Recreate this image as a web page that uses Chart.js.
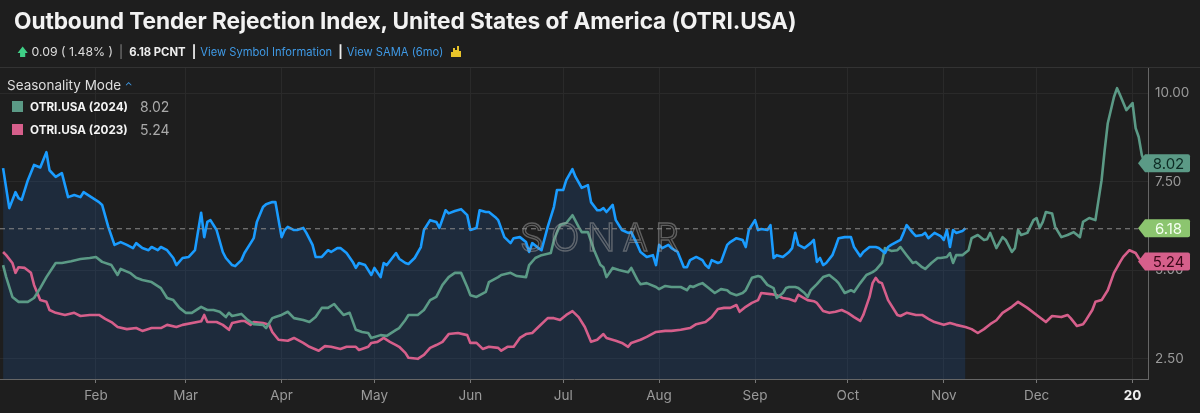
<!DOCTYPE html>
<html>
<head>
<meta charset="utf-8">
<script src="https://cdn.jsdelivr.net/npm/chart.js@4.4.1/dist/chart.umd.min.js"></script>
<style>
  html, body { margin: 0; padding: 0; background: #1e1e1e; }
  #wrap { position: relative; width: 1200px; height: 413px; background: #1e1e1e; font-family: Inter, Roboto, sans-serif; overflow: hidden; }
  #head { position: absolute; left: 0; top: 0; width: 1200px; height: 67px; border-bottom: 1px solid #333; }
  #title { position: absolute; left: 14px; top: 7px; color: #f2f2f2; font-size: 22.7px; font-weight: 700; white-space: nowrap; letter-spacing: -0.1px; }
  #sub { position: absolute; left: 17px; top: 44px; color: #ddd; font-size: 12.3px; white-space: nowrap; }
  #sub .up { color: #3fcf86; font-size: 11px; }
  #sub .sep { color: #888; margin: 0 6px; }
  #sub .pc { font-size: 11.3px; font-weight: 700; color: #eee; }
  #sub .bar { color: #eee; margin: 0 4px 0 6px; font-weight: 700; }
  #sub .lnk { color: #3f9ae6; font-size: 11.2px; }
  #legend { position: absolute; left: 7px; top: 77px; color: #ddd; font-size: 13.5px; }
  #legend .row { position: absolute; left: 5px; white-space: nowrap; font-size: 11.7px; }
  #legend .sw { display: inline-block; width: 11px; height: 11px; vertical-align: -1px; margin-right: 7px; }
  #legend .nm { color: #f4f4f4; font-weight: 700; }
  #legend .val { color: #aaa; position: absolute; left: 128px; font-size: 14px; top: -2px; }
  canvas { position: absolute; left: 0; top: 0; }
</style>
</head>
<body>
<div id="wrap">
  <canvas id="myChart" width="1200" height="413"></canvas>
  <div id="head">
    <div id="title">Outbound Tender Rejection Index, United States of America (OTRI.USA)</div>
    <div id="sub"><span class="up">&#129093;</span> 0.09 ( 1.48% )<span class="sep">|</span><span class="pc">6.18 PCNT</span><span class="bar">|</span><span class="lnk">View Symbol Information</span><span class="bar">|</span><span class="lnk">View SAMA (6mo)</span>
      <svg width="14" height="13" viewBox="0 0 14 13" style="vertical-align:-2px;margin-left:2px"><path d="M2 12 L2 7 L4 7 L4 3 L6 3 L6 5 L8 5 L8 1 L10 1 L10 6 L12 6 L12 12 Z" fill="#e8c42a"/></svg>
    </div>
  </div>
  <div id="legend">
    <div>Seasonality Mode <span style="color:#3f9ae6;font-size:10px">&#8963;</span></div>
    <div class="row" style="top:23px"><span class="sw" style="background:#5b9a86"></span><span class="nm">OTRI.USA (2024)</span><span class="val">8.02</span></div>
    <div class="row" style="top:46px"><span class="sw" style="background:#d65f8b"></span><span class="nm">OTRI.USA (2023)</span><span class="val">5.24</span></div>
  </div>
</div>
<script>
// day of year (0 = Jan 1) and index value
const blueDays = [1,3,5,6,7,9,11,13,15,16,18,20,22,24,26,27,30,32,33,35,37,39,41,43,44,46,48,49,51,52,54,56,57,59,61,63,65,66,67,68,70,72,73,75,76,78,79,81,82,83,85,86,88,89,91,92,93,95,96,98,99,101,102,104,106,107,109,110,112,114,115,116,118,120,121,123,124,125,128,129,131,132,134,136,137,139,141,142,144,145,147,149,151,152,154,155,157,158,160,161,163,165,166,168,170,171,172,174,175,177,179,180,182,183,185,186,188,190,191,193,194,195,196,198,199,201,203,204,206,207,209,211,212,213,214,216,217,219,221,222,223,225,227,228,229,230,232,233,235,236,238,240,241,242,244,245,246,248,249,250,251,253,255,256,257,258,260,262,263,264,265,266,267,269,270,271,273,275,276,278,279,281,283,284,286,287,288,291,292,293,295,296,298,299,300,302,304,305,306,307,308,309,311,312];
const blueVals = [7.88,6.75,7.2,7.03,6.98,7.54,7.97,7.9,8.33,7.82,7.63,7.74,7.06,7.12,7.06,7.2,7.03,6.92,6.84,6.22,5.71,5.79,5.71,5.62,5.76,5.62,5.56,5.65,5.56,5.65,5.56,5.34,5.14,5.34,5.37,5.56,6.62,5.93,6.36,6.41,6.13,5.51,5.34,5.14,5.11,5.28,5.48,5.76,5.9,6.36,6.78,6.86,6.92,6.92,5.93,6.13,6.22,6.13,6.13,6.19,6.05,5.71,5.37,5.37,5.56,5.51,5.62,5.62,5.48,5.23,5.06,5.2,5.14,4.86,5.06,4.8,5.2,5.14,5.48,5.32,5.2,5.17,5.34,5.65,6.13,6.41,6.36,6.19,6.69,6.6,6.67,6.72,6.55,6.13,6.19,6.69,6.64,6.64,6.5,6.41,5.93,5.76,5.9,5.93,5.79,5.51,5.76,5.62,5.56,6.22,6.78,7.26,7.26,7.54,7.85,7.63,7.32,7.4,6.92,6.69,6.69,6.75,6.64,6.84,6.41,6.13,6.05,6.07,5.71,5.51,5.37,5.42,5.14,5.71,5.62,5.71,5.62,5.51,5.08,5.08,5.28,5.37,5.28,5.14,5.06,5.28,5.2,5.23,5.71,5.79,5.9,5.85,5.65,6.13,6.41,6.13,6.16,6.13,6.27,5.34,5.42,5.37,5.51,5.62,6.05,5.71,5.62,5.76,5.85,5.23,5.34,5.14,5.2,5.42,5.65,5.9,5.93,5.93,5.65,5.39,5.51,5.65,5.65,5.62,5.48,5.65,5.71,5.85,6.05,6.27,6.05,5.96,5.99,6.05,5.9,6.05,5.96,5.85,6.13,5.65,6.13,6.05,6.1,6.18];

const greenDays = [1,2,4,6,9,11,13,15,18,20,23,26,29,31,33,36,38,39,42,44,46,49,52,54,56,58,60,62,65,67,69,71,73,74,75,78,80,82,85,86,88,89,91,93,95,98,100,102,104,106,108,109,111,113,115,117,119,120,123,125,128,129,131,132,135,137,139,141,143,145,147,149,151,152,154,157,158,161,162,165,167,170,171,173,175,178,179,181,183,185,187,188,190,192,194,195,196,198,200,203,204,206,207,209,212,213,215,217,220,222,223,224,226,227,229,231,233,235,236,238,240,241,243,245,246,248,250,251,253,254,255,257,258,260,261,262,264,266,268,270,271,273,275,276,278,280,282,283,285,286,288,290,291,293,295,296,298,299,301,303,304,306,307,308,309,311,313,314,316,318,319,320,322,324,325,327,328,329,330,332,334,335,336,337,338,340,341,343,345,347,349,350,352,354,356,357,358,360,361,362,364,366,367,368,369,370];
const greenVals = [5.14,4.8,4.24,4.1,4.1,4.21,4.49,4.8,5.2,5.2,5.25,5.31,5.34,5.37,5.23,5.14,4.86,5.03,4.92,4.78,4.72,4.66,4.49,4.21,4.15,3.93,3.79,3.79,3.96,3.87,3.87,3.82,3.67,3.79,3.7,3.76,3.59,3.47,3.45,3.36,3.64,3.67,3.73,3.82,3.64,3.59,3.53,3.67,3.93,3.93,4.04,3.93,3.73,3.79,3.31,3.25,3.22,3.08,3.16,3.14,3.31,3.36,3.59,3.73,3.73,3.87,4.15,4.24,4.58,4.8,4.92,4.92,4.52,4.29,4.24,4.38,4.66,4.8,4.86,4.92,4.83,4.8,5.14,5.34,5.42,5.48,5.85,6.27,6.33,6.55,6.22,6.07,6.07,5.56,5.15,5.08,4.8,5.06,5.0,4.94,5.06,4.72,4.6,4.63,4.52,4.46,4.55,4.52,4.52,4.43,4.55,4.52,4.6,4.63,4.49,4.35,4.46,4.43,4.35,4.29,4.35,4.43,4.78,4.83,4.8,4.58,4.49,4.21,4.35,4.49,4.52,4.52,4.49,4.35,4.24,4.43,4.6,4.8,4.86,4.72,4.63,4.35,4.43,4.38,4.63,4.86,4.94,5.0,5.2,5.62,5.54,5.56,5.65,5.42,5.2,5.23,5.08,5.03,5.2,5.34,5.34,5.37,5.48,5.2,5.42,5.42,5.56,5.9,5.99,5.85,5.87,6.05,5.62,5.93,5.85,5.51,5.62,6.13,5.99,6.05,6.41,6.47,6.19,6.36,6.64,6.6,6.22,5.93,5.99,6.07,5.93,6.36,6.47,6.41,7.54,8.39,9.15,9.89,10.14,9.94,9.52,9.72,9.01,8.76,8.25,8.02];

const pinkDays = [1,2,4,5,6,8,10,11,13,15,16,18,21,24,26,29,32,34,36,38,41,44,46,49,52,54,57,59,65,66,67,70,72,74,75,78,79,81,82,85,87,88,90,93,95,98,100,103,105,107,110,112,115,116,119,120,122,124,126,128,129,131,132,135,137,139,141,143,145,148,151,152,154,156,158,161,162,164,166,168,170,172,174,177,179,181,183,185,187,189,191,193,195,196,199,201,203,204,207,209,212,215,217,220,223,225,228,230,232,234,236,238,239,241,243,245,246,249,251,253,255,257,258,261,263,264,266,268,270,272,274,276,278,279,281,282,283,284,285,287,290,291,293,296,298,300,302,305,307,309,312,314,316,318,320,322,324,327,329,332,335,338,340,343,345,346,348,350,351,353,354,356,358,360,362,363,365,367,368,369];
const pinkVals = [5.51,5.42,5.2,4.92,5.08,5.06,4.92,4.58,4.15,4.1,3.87,3.79,3.73,3.79,3.7,3.73,3.73,3.62,3.53,3.39,3.33,3.36,3.28,3.36,3.36,3.45,3.39,3.45,3.55,3.73,3.53,3.53,3.45,3.31,3.5,3.56,3.56,3.45,3.53,3.5,3.45,3.25,3.03,3.0,3.08,2.94,2.83,2.72,2.85,2.83,2.77,2.83,2.83,2.74,2.83,2.94,2.97,3.08,2.97,2.88,2.83,2.66,2.52,2.49,2.6,2.8,2.88,2.97,3.19,3.22,3.16,2.94,2.94,2.77,2.83,2.8,2.72,2.83,2.83,3.08,3.19,3.22,3.39,3.64,3.64,3.59,3.73,3.84,3.67,3.39,2.97,3.03,3.19,3.08,3.0,2.94,2.83,2.94,3.03,3.11,3.25,3.28,3.28,3.31,3.36,3.47,3.53,3.67,3.9,3.93,3.93,4.01,3.82,3.96,4.07,4.15,4.35,4.32,4.29,4.21,4.18,4.12,4.3,4.15,4.12,4.07,3.84,3.79,3.82,3.87,3.79,3.67,3.56,3.73,4.24,4.63,4.78,4.66,4.63,4.15,3.73,3.7,3.79,3.73,3.73,3.62,3.53,3.45,3.5,3.45,3.39,3.33,3.22,3.33,3.47,3.58,3.79,3.96,4.1,3.93,3.73,3.53,3.7,3.67,3.73,3.64,3.42,3.47,3.59,3.87,4.1,4.15,4.43,4.92,5.23,5.37,5.56,5.48,5.34,5.24];

// month starts (2024) and their labels
const monthDays = [31,60,91,121,152,182,213,244,274,305,335,366];
const monthLabels = ['Feb','Mar','Apr','May','Jun','Jul','Aug','Sep','Oct','Nov','Dec','20'];
const yTicks = [2.5,5,7.5,10];

const lastBlue = blueVals[blueVals.length - 1];
const lastGreen = greenVals[greenVals.length - 1];
const lastPink = pinkVals[pinkVals.length - 1];

const toPoints = (days, vals) => days.map((d, i) => ({x: d, y: vals[i]}));

const overlay = {
    id: 'overlay',
    afterDatasetsDraw(chart) {
        const {ctx, chartArea, scales} = chart;
        const y = scales.y;
        // watermark
        ctx.save();
        ctx.font = '300 38px Inter, Roboto, sans-serif';
        ctx.letterSpacing = '7px';
        ctx.textAlign = 'center';
        ctx.textBaseline = 'middle';
        ctx.strokeStyle = 'rgba(160,160,160,0.5)';
        ctx.lineWidth = 1.4;
        ctx.strokeText('SONAR', 603, 240);
        ctx.restore();

        // current value dashed line
        const py = y.getPixelForValue(lastBlue);
        ctx.save();
        ctx.strokeStyle = '#8a8a8a';
        ctx.lineWidth = 1;
        ctx.setLineDash([5, 4]);
        ctx.beginPath();
        ctx.moveTo(chartArea.left, py + 0.5);
        ctx.lineTo(chartArea.right - 10, py + 0.5);
        ctx.stroke();
        ctx.restore();
    },
    afterDraw(chart) {
        const {ctx, chartArea, scales} = chart;
        const y = scales.y;
        const tag = (v, bg, fg) => {
            const py = y.getPixelForValue(v);
            const tip = chartArea.right - 10, x0 = chartArea.right - 3, x1 = chartArea.right + 42, h = 9;
            ctx.save();
            ctx.fillStyle = bg;
            ctx.beginPath();
            ctx.moveTo(tip, py);
            ctx.lineTo(x0, py - h);
            ctx.lineTo(x1 - 2, py - h);
            ctx.quadraticCurveTo(x1, py - h, x1, py - h + 2);
            ctx.lineTo(x1, py + h - 2);
            ctx.quadraticCurveTo(x1, py + h, x1 - 2, py + h);
            ctx.lineTo(x0, py + h);
            ctx.closePath();
            ctx.fill();
            ctx.fillStyle = fg;
            ctx.font = '15px Inter, Roboto, sans-serif';
            ctx.textAlign = 'center';
            ctx.textBaseline = 'middle';
            ctx.fillText(v.toFixed(2), (x0 + x1) / 2 + 1, py + 1);
            ctx.restore();
        };
        tag(lastGreen, '#5b9a86', '#0d2b24');
        tag(lastBlue, '#8cc56f', '#f4fff0');
        tag(lastPink, '#d65f8b', '#3a0818');
    }
};

var ctx = document.getElementById('myChart').getContext('2d');
var chart = new Chart(ctx, {
    type: 'line',
    data: {
        datasets: [{
            label: 'OTRI.USA',
            data: toPoints(blueDays, blueVals),
            borderColor: '#1a9cff',
            backgroundColor: 'rgba(34,78,140,0.28)',
            fill: 'start',
            borderWidth: 2.6
        }, {
            label: 'OTRI.USA (2024)',
            data: toPoints(greenDays, greenVals),
            borderColor: '#5b9a86',
            fill: false,
            borderWidth: 2.6
        }, {
            label: 'OTRI.USA (2023)',
            data: toPoints(pinkDays, pinkVals),
            borderColor: '#d65f8b',
            fill: false,
            borderWidth: 2.6
        }]
    },
    options: {
        responsive: false,
        animation: false,
        events: [],
        layout: {padding: {top: 68, left: 0, right: 0, bottom: 0}},
        elements: {point: {radius: 0}, line: {tension: 0, borderJoinStyle: 'round'}},
        plugins: {
            legend: {display: false},
            tooltip: {enabled: false},
            filler: {drawTime: 'beforeDatasetsDraw'}
        },
        scales: {
            x: {
                type: 'linear',
                min: 0,
                max: 371,
                afterBuildTicks: (axis) => { axis.ticks = monthDays.map(v => ({value: v})); },
                afterFit: (axis) => { axis.height = 34; },
                grid: {color: '#2a2a2a', tickColor: '#777', tickLength: 4, drawTicks: true},
                border: {color: '#666'},
                ticks: {
                    autoSkip: false,
                    maxRotation: 0,
                    padding: 5,
                    callback: (v) => monthLabels[monthDays.indexOf(v)],
                    color: (c) => c.tick && c.tick.value === 366 ? '#f0f0f0' : '#9a9a9a',
                    font: (c) => ({family: 'Inter, Roboto, sans-serif', size: 13.5, weight: c.tick && c.tick.value === 366 ? 'bold' : 'normal'})
                }
            },
            y: {
                position: 'right',
                min: 1.92,
                max: 10.71,
                afterBuildTicks: (axis) => { axis.ticks = yTicks.map(v => ({value: v})); },
                afterFit: (axis) => { axis.width = 52; },
                grid: {color: '#2a2a2a', drawTicks: false},
                border: {color: '#666'},
                ticks: {
                    padding: 7,
                    color: '#9a9a9a',
                    font: {family: 'Inter, Roboto, sans-serif', size: 13.5},
                    callback: (v) => Number(v).toFixed(2)
                }
            }
        }
    },
    plugins: [overlay]
});
</script>
</body>
</html>
